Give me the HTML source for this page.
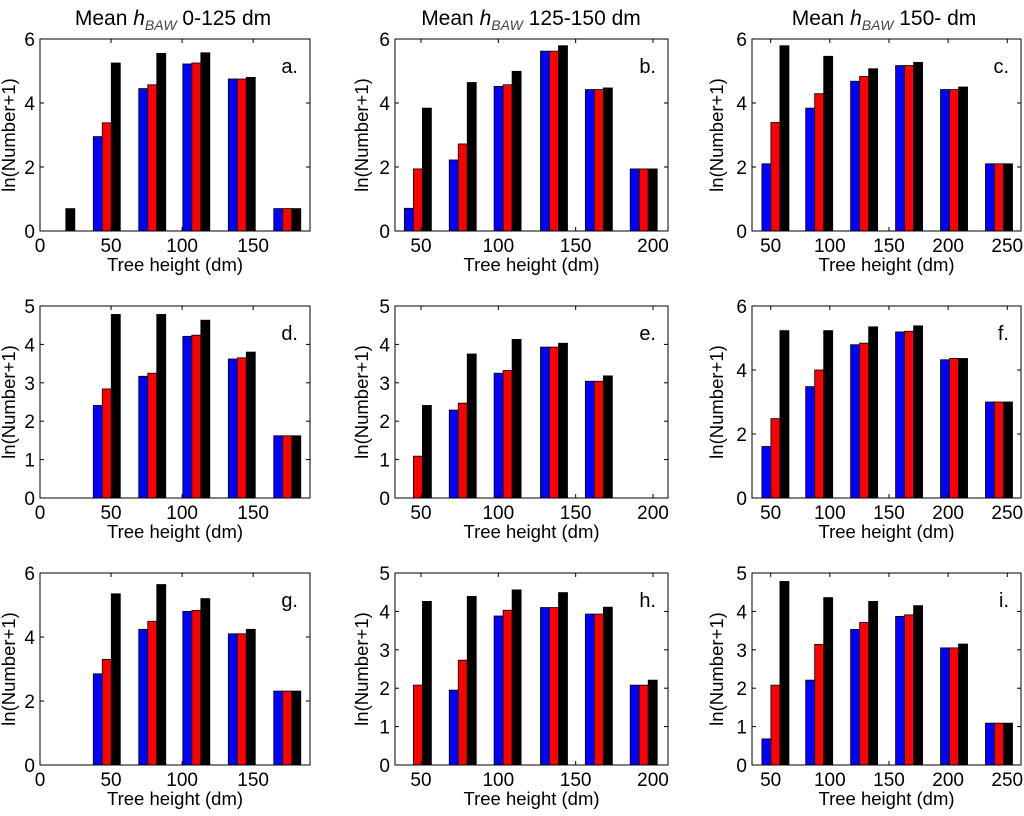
<!DOCTYPE html>
<html><head><meta charset="utf-8">
<style>
html,body{margin:0;padding:0;background:#fff;}
svg text{font-family:"Liberation Sans",Arial,sans-serif;fill:#000;}
</style></head>
<body>
<svg id="chart" width="1024" height="811" viewBox="0 0 1024 811" xmlns="http://www.w3.org/2000/svg">
<g>
<text x="173" y="25" font-size="21" text-anchor="middle">Mean <tspan font-style="italic">h</tspan><tspan font-style="italic" font-size="14" dy="5" fill="#444">BAW</tspan><tspan dy="-5"> 0-125 dm</tspan></text>
<text x="531" y="25" font-size="21" text-anchor="middle">Mean <tspan font-style="italic">h</tspan><tspan font-style="italic" font-size="14" dy="5" fill="#444">BAW</tspan><tspan dy="-5"> 125-150 dm</tspan></text>
<text x="884" y="25" font-size="21" text-anchor="middle">Mean <tspan font-style="italic">h</tspan><tspan font-style="italic" font-size="14" dy="5" fill="#444">BAW</tspan><tspan dy="-5"> 150- dm</tspan></text>
</g>
</svg>
<script>
// x positions (dm) of histogram groups per column
const groupsCol1 = [15, 47, 79, 110, 142, 174];
const groupsCol2 = [48, 77, 106, 136, 165, 194];
const groupsCol3 = [54, 91, 129, 167, 205, 243];
const xTicksCol1 = [0, 50, 100, 150];
const xTicksCol2 = [50, 100, 150, 200];
const xTicksCol3 = [50, 100, 150, 200, 250];
const yTicks6 = [0, 2, 4, 6];
const yTicks5 = [0, 1, 2, 3, 4, 5];
// series values: blue, red, black
const aBlue = [0, 2.95, 4.45, 5.22, 4.75, 0.7];
const aRed = [0, 3.38, 4.57, 5.25, 4.75, 0.7];
const aBlack = [0.7, 5.25, 5.55, 5.57, 4.8, 0.7];
const bBlue = [0.71, 2.22, 4.52, 5.62, 4.42, 1.94];
const bRed = [1.94, 2.72, 4.57, 5.62, 4.42, 1.94];
const bBlack = [3.84, 4.64, 4.99, 5.79, 4.47, 1.94];
const cBlue = [2.10, 3.84, 4.68, 5.17, 4.42, 2.10];
const cRed = [3.39, 4.29, 4.83, 5.17, 4.42, 2.10];
const cBlack = [5.79, 5.46, 5.07, 5.27, 4.50, 2.10];
const dBlue = [0, 2.41, 3.17, 4.21, 3.62, 1.62];
const dRed = [0, 2.84, 3.25, 4.24, 3.65, 1.62];
const dBlack = [0, 4.78, 4.78, 4.63, 3.80, 1.62];
const eBlue = [0, 2.29, 3.25, 3.93, 3.04, 0];
const eRed = [1.09, 2.47, 3.32, 3.93, 3.04, 0];
const eBlack = [2.41, 3.75, 4.13, 4.03, 3.18, 0];
const fBlue = [1.61, 3.48, 4.79, 5.19, 4.32, 3.0];
const fRed = [2.48, 4.0, 4.84, 5.21, 4.36, 3.0];
const fBlack = [5.23, 5.23, 5.35, 5.38, 4.36, 3.0];
const gBlue = [0, 2.85, 4.24, 4.80, 4.10, 2.31];
const gRed = [0, 3.30, 4.49, 4.83, 4.10, 2.31];
const gBlack = [0, 5.35, 5.64, 5.20, 4.24, 2.31];
const hBlue = [0, 1.95, 3.88, 4.10, 3.93, 2.08];
const hRed = [2.08, 2.73, 4.03, 4.10, 3.93, 2.08];
const hBlack = [4.26, 4.39, 4.56, 4.49, 4.11, 2.21];
const iBlue = [0.68, 2.21, 3.53, 3.87, 3.05, 1.09];
const iRed = [2.08, 3.14, 3.71, 3.91, 3.05, 1.09];
const iBlack = [4.78, 4.36, 4.26, 4.15, 3.15, 1.09];

const svg = document.getElementById('chart');
const NS = 'http://www.w3.org/2000/svg';
function mk(tag, attrs, parent) {
  const e = document.createElementNS(NS, tag);
  for (const k in attrs) e.setAttribute(k, attrs[k]);
  parent.appendChild(e);
  return e;
}
const cols = [
  {left: 40, right: 310, xmin: 0, xmax: 190, groups: groupsCol1, ticks: xTicksCol1, ylx: 10},
  {left: 395, right: 668, xmin: 33.2, xmax: 209.7, groups: groupsCol2, ticks: xTicksCol2, ylx: 363},
  {left: 752, right: 1021, xmin: 34.2, xmax: 261.6, groups: groupsCol3, ticks: xTicksCol3, ylx: 718}
];
const rowsTop = [39, 306, 573];
const H = 192;
const panels = [
  {id: 'a', r: 0, c: 0, ymax: 6, yt: yTicks6, s: [aBlue, aRed, aBlack]},
  {id: 'b', r: 0, c: 1, ymax: 6, yt: yTicks6, s: [bBlue, bRed, bBlack]},
  {id: 'c', r: 0, c: 2, ymax: 6, yt: yTicks6, s: [cBlue, cRed, cBlack]},
  {id: 'd', r: 1, c: 0, ymax: 5, yt: yTicks5, s: [dBlue, dRed, dBlack]},
  {id: 'e', r: 1, c: 1, ymax: 5, yt: yTicks5, s: [eBlue, eRed, eBlack]},
  {id: 'f', r: 1, c: 2, ymax: 6, yt: yTicks6, s: [fBlue, fRed, fBlack]},
  {id: 'g', r: 2, c: 0, ymax: 6, yt: yTicks6, s: [gBlue, gRed, gBlack]},
  {id: 'h', r: 2, c: 1, ymax: 5, yt: yTicks5, s: [hBlue, hRed, hBlack]},
  {id: 'i', r: 2, c: 2, ymax: 5, yt: yTicks5, s: [iBlue, iRed, iBlack]}
];
const colors = ['#0000ff', '#ff0000', '#000000'];
const seriesNames = ['blue', 'red', 'black'];
const BW = 9;
panels.forEach(p => {
  const col = cols[p.c];
  const top = rowsTop[p.r], bottom = top + H;
  const xs = v => col.left + (v - col.xmin) / (col.xmax - col.xmin) * (col.right - col.left);
  const ys = v => bottom - v / p.ymax * H;
  const g = mk('g', {}, svg);
  
  
  p.s.forEach((vals, si) => {
    vals.forEach((v, gi) => {
      if (v <= 0) return;
      const cx = xs(col.groups[gi]) + (si - 1) * BW;
      const r = mk('rect', {x: cx - BW / 2, y: ys(v), width: BW, height: bottom - ys(v), fill: colors[si], stroke: '#000', 'stroke-width': 0.8}, g);
      
      
    });
  });
  const fr = mk('rect', {x: col.left, y: top, width: col.right - col.left, height: H, fill: 'none', stroke: '#000', 'stroke-width': 1}, g);
  
  
  p.yt.forEach(t => {
    const y = ys(t);
    mk('line', {x1: col.left, x2: col.left + 4, y1: y, y2: y, stroke: '#000'}, g);
    mk('line', {x1: col.right, x2: col.right - 4, y1: y, y2: y, stroke: '#000'}, g);
    const tx = mk('text', {x: col.left - 5, y: y + 7, 'font-size': 19, 'text-anchor': 'end'}, g);
    tx.textContent = t;
    
    
  });
  col.ticks.forEach(t => {
    const x = xs(t);
    mk('line', {x1: x, x2: x, y1: bottom, y2: bottom - 4, stroke: '#000'}, g);
    mk('line', {x1: x, x2: x, y1: top, y2: top + 4, stroke: '#000'}, g);
    const tx = mk('text', {x: x, y: bottom + 21, 'font-size': 19, 'text-anchor': 'middle'}, g);
    tx.textContent = t;
    
    
  });
  const xl = mk('text', {x: (col.left + col.right) / 2, y: bottom + 40, 'font-size': 18.5, 'text-anchor': 'middle'}, g);
  xl.textContent = 'Tree height (dm)';
  
  
  const yc = top + H / 2;
  const yl = mk('text', {x: col.ylx, y: yc, 'font-size': 18.5, 'text-anchor': 'middle', transform: 'rotate(-90 ' + col.ylx + ' ' + yc + ')', 'dominant-baseline': 'middle'}, g);
  yl.textContent = 'ln(Number+1)';
  
  
  const lab = mk('text', {x: col.right - 12, y: top + 34, 'font-size': 20, 'text-anchor': 'end'}, g);
  lab.textContent = p.id + '.';
  
  
});
</script>
</body></html>
